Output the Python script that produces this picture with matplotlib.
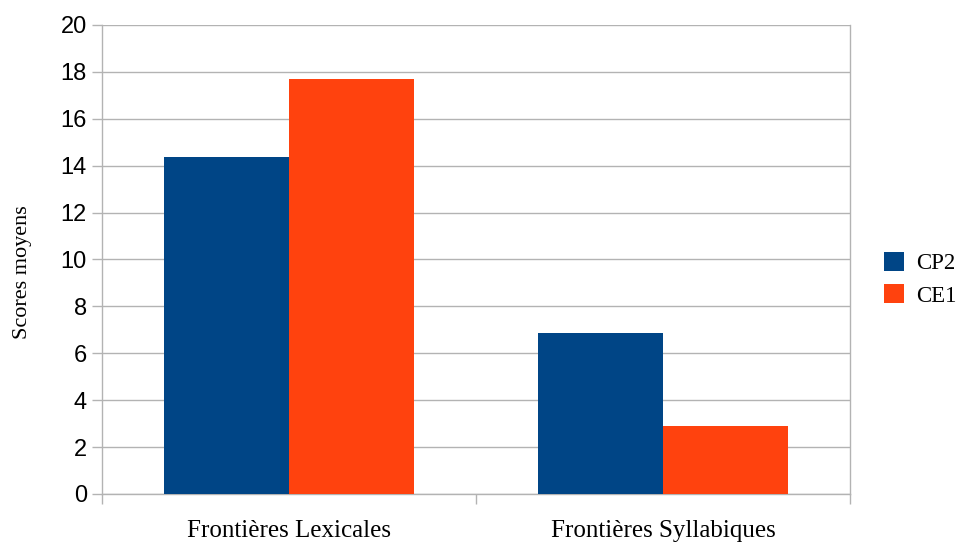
import matplotlib
matplotlib.use("Agg")
import matplotlib.pyplot as plt
import numpy as np

categories = ["Frontières Lexicales", "Frontières Syllabiques"]
series_names = ["CP2", "CE1"]
cp2_values = [14.38, 6.87]
ce1_values = [17.70, 2.90]
y_ticks = [0, 2, 4, 6, 8, 10, 12, 14, 16, 18, 20]
colors = ["#004586", "#ff420e"]

fig = plt.figure(figsize=(9.59, 5.42), dpi=100)
ax = fig.add_axes([0.1064, 0.0886, 0.7799, 0.8653])

x = np.arange(len(categories))
w = 0.333
ax.bar(x - w / 2, cp2_values, width=w, color=colors[0], label=series_names[0], zorder=3)
ax.bar(x + w / 2, ce1_values, width=w, color=colors[1], label=series_names[1], zorder=3)

ax.set_xlim(-0.5, len(categories) - 0.5)
ax.set_ylim(0, 20)
ax.set_yticks(y_ticks)
ax.set_yticklabels([str(t) for t in y_ticks], fontfamily="Liberation Sans", fontsize=17)
ax.yaxis.grid(True, color="#b3b3b3", linewidth=1, zorder=0)
ax.set_axisbelow(True)

# category ticks at boundaries, labels at centers
ax.set_xticks([-0.5, 0.5, 1.5])
ax.set_xticklabels([])
ax.set_xticks(x, minor=True)
ax.set_xticklabels(categories, minor=True, fontfamily="Liberation Serif", fontsize=18)
ax.tick_params(axis="x", which="minor", length=0, pad=19)
ax.tick_params(axis="x", which="major", length=7, color="#b3b3b3", width=1)
ax.tick_params(axis="y", length=7, color="#b3b3b3", width=1, pad=4)

for s in ["left", "bottom", "right"]:
    ax.spines[s].set_color("#b3b3b3")
    ax.spines[s].set_linewidth(1)
ax.spines["top"].set_visible(False)

ax.set_ylabel("Scores moyens", fontfamily="Liberation Serif", fontsize=16)
ax.yaxis.set_label_coords(-0.094, 0.473)

leg = ax.legend(loc="center left", bbox_to_anchor=(1.03, 0.458), frameon=False,
                prop={"family": "Liberation Serif", "size": 16.5}, borderpad=0,
                handlelength=0.9, handleheight=0.9, handletextpad=0.5, labelspacing=0.45)

fig.savefig("out.png", dpi=100)
